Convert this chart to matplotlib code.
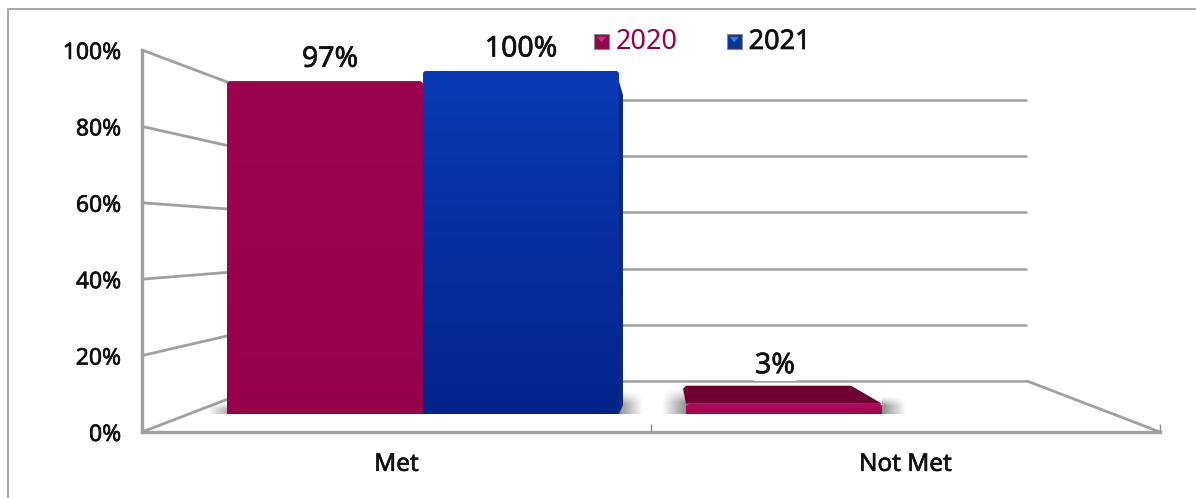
import numpy as np
import matplotlib
matplotlib.use("Agg")
import matplotlib.pyplot as plt
import matplotlib.patheffects as pe
from matplotlib.patches import ConnectionPatch, FancyBboxPatch, Polygon, Patch
from matplotlib.legend_handler import HandlerBase
from matplotlib.lines import Line2D
from matplotlib.colors import LinearSegmentedColormap

categories = ["Met", "Not Met"]
values_2020 = [97, 3]
values_2021 = [100, 0]
labels_2020 = ["97%", "3%"]
labels_2021 = ["100%", ""]
y_ticks = [0, 20, 40, 60, 80, 100]
y_tick_labels = ["0%", "20%", "40%", "60%", "80%", "100%"]
series_names = ["2020", "2021"]

RED, RED_L, RED_D = "#96004A", "#9C0450", "#6E0033"
BLUE_T, BLUE_B, BLUE_D = "#0B3AB4", "#03238B", "#0A2A80"
GREY = "#A0A0A0"
W, H = 1196, 498
plt.rcParams["font.family"] = ["Noto Sans", "DejaVu Sans"]
fig = plt.figure(figsize=(W / 100, H / 100), dpi=100, facecolor="white")
heavy = [pe.withStroke(linewidth=0.45, foreground="#111111")]


def box(x0, y_top, x1, y_bot):
    return [x0 / W, 1 - y_bot / H, (x1 - x0) / W, (y_bot - y_top) / H]


# Three parallel planes of the pseudo-3D chart share the same data scales
ax_back = fig.add_axes(box(275, 100, 1027, 381), zorder=1)
ax_front = fig.add_axes(box(142, 50, 1160, 432), zorder=2)
ax_bar = fig.add_axes(box(193.5, 71, 1111.5, 414), zorder=3)
for a in (ax_back, ax_front, ax_bar):
    a.set_xlim(-0.5, 1.5)
    a.set_ylim(0, 100)
    a.patch.set_visible(False)

# back wall
ax_back.set_axis_off()
ax_back.hlines(y_ticks, -0.5, 1.5, color=GREY, lw=1.8, clip_on=False)

# front axes
for s in ("top", "right"):
    ax_front.spines[s].set_visible(False)
for s in ("left", "bottom"):
    ax_front.spines[s].set_color(GREY)
    ax_front.spines[s].set_linewidth(2.4)
ax_front.set_yticks(y_ticks, y_tick_labels, fontsize=16.5, color="#111111")
ax_front.tick_params(axis="y", length=0, pad=15)
ax_front.set_xticks(range(len(categories)), categories, fontsize=17.5, color="#111111")
ax_front.tick_params(axis="x", which="major", length=0, pad=15)
ax_front.set_xticks([0.5, 1.5], minor=True)
ax_front.tick_params(axis="x", which="minor", direction="in", length=6, width=1, color="#8C8C8C")
for t in ax_front.get_xticklabels() + ax_front.get_yticklabels():
    t.set_path_effects(heavy)

# side walls / floor connectors
for v in y_ticks:
    fig.add_artist(ConnectionPatch((-0.5, v), (-0.5, v), "data", "data", axesA=ax_front, axesB=ax_back,
                                   color=GREY, lw=2.0, zorder=2))
fig.add_artist(ConnectionPatch((1.5, 0), (1.5, 0), "data", "data", axesA=ax_front, axesB=ax_back,
                               color=GREY, lw=2.0, zorder=2))

# bars
bw = 0.427
xs = np.arange(len(categories))
PX = 2.0 / 918  # category units per pixel
PY = 100.0 / 343  # percent per pixel


def shadow(x0, x1, y1, reverse, strength=0.45):
    gx = np.linspace(1, 0, 64)[None, :]
    gx = gx[:, ::-1] if reverse else gx
    gy = np.clip(np.linspace(0, 1.8, 32), 0, 1)[:, None] ** 1.2
    rgba = np.zeros((32, 64, 4))
    rgba[..., 3] = strength * gx * gy
    ax_bar.imshow(rgba, extent=(x0, x1, 0, y1), aspect="auto", zorder=1, interpolation="bilinear")


def gradient_bar(rect, top, bottom):
    x, w, h = rect.get_x(), rect.get_width(), rect.get_height()
    rect.set_visible(False)
    if h <= 0:
        return
    r = 4 * PX
    fb = FancyBboxPatch((x, -6), w, h + 6, boxstyle=f"round,pad=0,rounding_size={r}",
                        mutation_aspect=(4 * PY) / r, fc=bottom, ec="none", zorder=3)
    ax_bar.add_patch(fb)
    cmap = LinearSegmentedColormap.from_list("g", [bottom, top])
    im = ax_bar.imshow(np.linspace(1, 0, 128)[:, None], extent=(x, x + w, 0, h), aspect="auto",
                       cmap=cmap, zorder=3.1)
    im.set_clip_path(fb)


bars20 = ax_bar.bar(xs - bw / 2, values_2020, bw, color=RED, label=series_names[0])
bars21 = ax_bar.bar(xs + bw / 2, values_2021, bw, color=BLUE_T, label=series_names[1])

# shadows around the bar feet
b21 = bars21[0]
shadow(b21.get_x() + bw, b21.get_x() + bw + 24 * PX, 6.5, False)
b0 = bars20[0]
shadow(b0.get_x() - 20 * PX, b0.get_x(), 3, True, 0.3)
b1 = bars20[1]
shadow(b1.get_x() - 24 * PX, b1.get_x(), 7.5, True)
shadow(b1.get_x() + bw, b1.get_x() + bw + 24 * PX, 5, False)

# side face of tall blue bar
sx = b21.get_x() + bw
ax_bar.add_patch(Polygon([(sx - 2 * PX, values_2021[0] - 1), (sx + 4 * PX, values_2021[0] - 24 * PY),
                          (sx + 4 * PX, 9 * PY), (sx, 0)],
                         closed=True, fc=BLUE_D, ec="none", zorder=2.8))

gradient_bar(bars20[0], RED_L, RED)
gradient_bar(bars21[0], BLUE_T, BLUE_B)
gradient_bar(bars20[1], "#B00A5E", "#A0044F")
gradient_bar(bars21[1], BLUE_T, BLUE_B)

# top face of the flat red bar
bx, bh = b1.get_x(), values_2020[1]
ax_bar.add_patch(Polygon([(bx, bh), (bx - 3 * PX, bh + 15 * PY), (bx, bh + 18 * PY),
                          (bx + bw - 31 * PX, bh + 18 * PY), (bx + bw, bh)],
                         closed=True, fc=RED_D, ec="none", zorder=4))
ax_bar.set_xlim(-0.5, 1.5)
ax_bar.set_ylim(0, 100)
ax_bar.set_axis_off()

# data labels
lab_kw = dict(ha="center", va="center", fontsize=20.5, color="#111111", zorder=6,
              textcoords="offset pixels", xycoords="data", annotation_clip=False,
              path_effects=heavy, bbox=dict(fc="white", ec="none", pad=0.5))
ax_bar.annotate(labels_2020[0], (bars20[0].get_x() + bw / 2, values_2020[0]), xytext=(5, 22), **lab_kw)
ax_bar.annotate(labels_2021[0], (bars21[0].get_x() + bw / 2, values_2021[0]), xytext=(0, 22), **lab_kw)
ax_bar.annotate(labels_2020[1], (bars20[1].get_x() + bw / 2, values_2020[1]), xytext=(-9, 38), **lab_kw)


# legend
class Bevel(HandlerBase):
    def create_artists(self, legend, orig, xd, yd, width, height, fontsize, trans):
        c, l = orig.get_facecolor(), orig.get_edgecolor()
        s = Polygon([(0, 0), (width, 0), (width, width), (0, width)], closed=True, fc=c, ec="#8A8A8A", lw=0.8,
                    transform=trans)
        t = Polygon([(width * .18, width * .82), (width * .82, width * .82), (width * .5, width * .45)],
                    closed=True, fc=l, ec="none", transform=trans)
        return [s, t]


handles = [Patch(fc="#8E0A4C", ec="#D02A78", label=series_names[0]),
           Patch(fc="#0E348F", ec="#3E74E0", label=series_names[1])]
leg = fig.legend(handles=handles, handler_map={Patch: Bevel()}, ncols=2, frameon=False, fontsize=19.5,
                 loc="center left", bbox_to_anchor=(594 / W, 1 - 42 / H), bbox_transform=fig.transFigure,
                 handlelength=0.55, handletextpad=0.26, columnspacing=1.8, borderpad=0, borderaxespad=0)
leg.set_zorder(7)
leg.get_texts()[0].set_color("#96004A")
leg.get_texts()[1].set_color("#111111")
leg.get_texts()[1].set_path_effects(heavy)

# outer frame of the picture
fig.add_artist(Line2D([8 / W, 8 / W, 1], [0, 1 - 9 / H, 1 - 9 / H], color="#A0A0A0", lw=1.3, zorder=0))

fig.savefig("out.png", dpi=100)
